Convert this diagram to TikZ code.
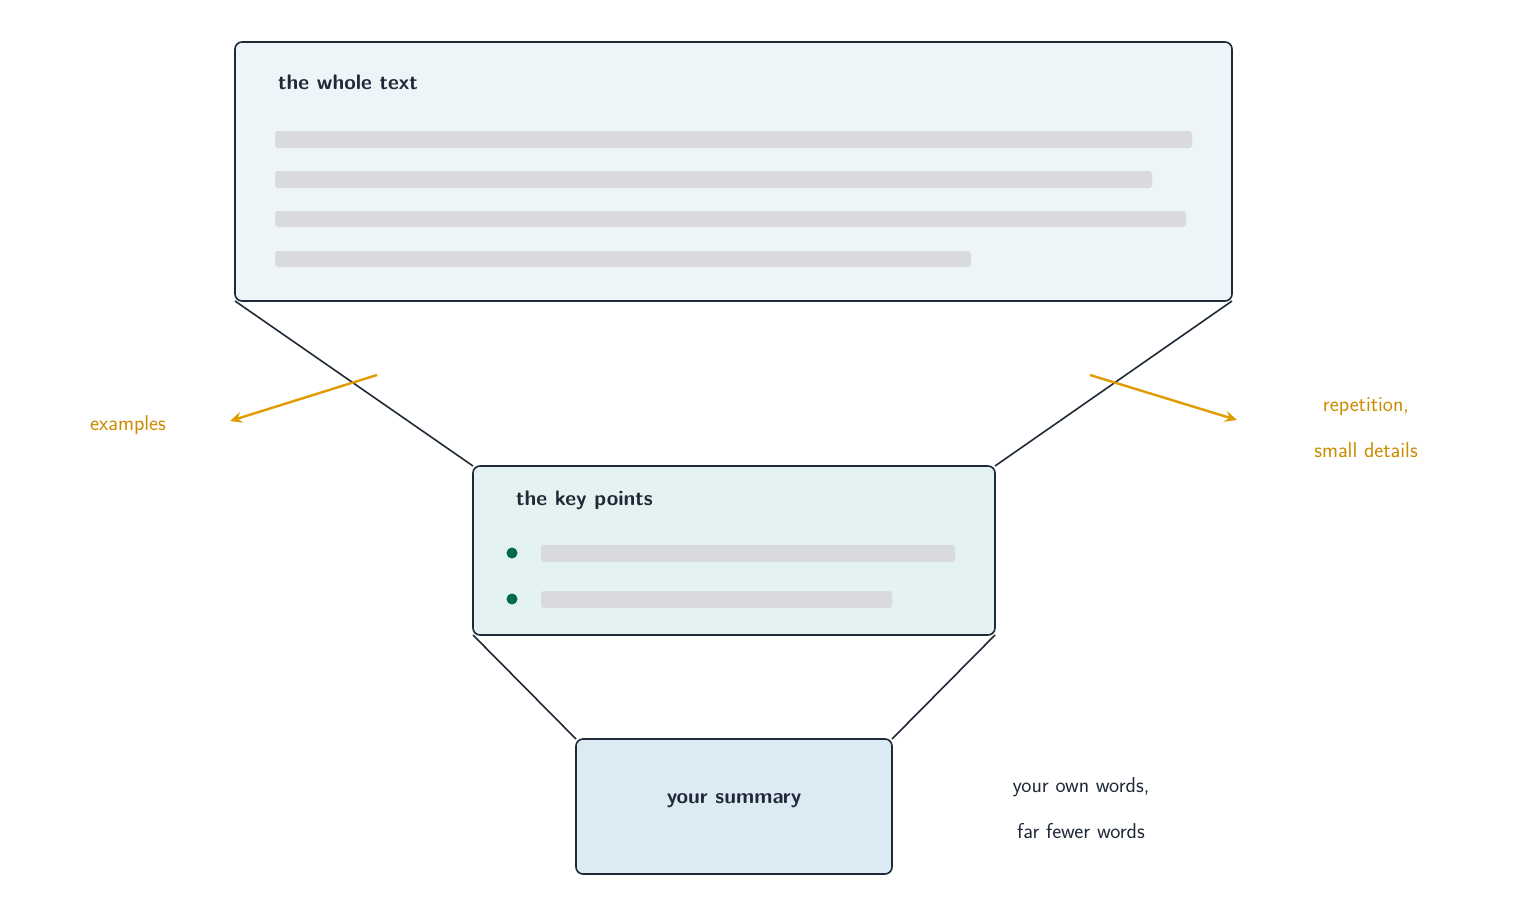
\documentclass[tikz,border=0pt]{standalone}
\usepackage{fontspec}
\usetikzlibrary{arrows.meta}
\definecolor{ink}{HTML}{1F2937}
\definecolor{barc}{HTML}{D9DADF}
\definecolor{orng}{HTML}{E09B00}
\definecolor{orngt}{HTML}{CC8A00}
\definecolor{grn}{HTML}{006A4E}
\begin{document}
\begin{tikzpicture}[x=1pt,y=-1pt,
 box/.style={draw=ink,line width=1.6pt,rounded corners=7pt},
 bar/.style={fill=barc,rounded corners=3pt},
 conn/.style={draw=ink,line width=1.6pt},
 arr/.style={draw=orng,line width=2.4pt,-{Stealth[length=12pt,width=11pt]}},
 ttl/.style={font=\sffamily\bfseries\fontsize{21}{25}\selectfont,text=ink,anchor=west,inner sep=0},
 lbl/.style={font=\sffamily\fontsize{21.5}{46}\selectfont,align=center,inner sep=0}]
\useasboundingbox (0,0) rectangle (1522,916);
\path[box,fill={rgb,255:red,237;green,245;blue,249}] (235,42) rectangle (1232,301);
\coordinate (tl) at (235,301); \coordinate (tr) at (1232,301);
\node[ttl] (t1) at (278,82) {the whole text};
\path[bar] (275,131) rectangle (1192,148);
\path[bar] (275,171) rectangle (1152,188);
\path[bar] (275,211) rectangle (1186,227);
\path[bar] (275,251) rectangle (971,267);
\path[box,fill={rgb,255:red,228;green,243;blue,241}] (473,466) rectangle (995,635);
\coordinate (ml) at (473,466); \coordinate (mr) at (995,466);
\coordinate (mbl) at (473,635); \coordinate (mbr) at (995,635);
\node[ttl] (t2) at (516,500) {the key points};
\fill[grn] (512,553) circle (5.5);
\fill[grn] (512,599) circle (5.5);
\path[bar] (541,545) rectangle (955,562);
\path[bar] (541,591) rectangle (892,608);
\path[box,fill={rgb,255:red,219;green,234;blue,243}] (576,739) rectangle (892,874);
\coordinate (bl) at (576,739); \coordinate (br) at (892,739);
\node[ttl,anchor=center] (t3) at (734,801) {your summary};
\draw[conn] (tl) -- (ml); \draw[conn] (tr) -- (mr);
\draw[conn] (mbl) -- (bl); \draw[conn] (mbr) -- (br);
\coordinate (a1) at (377,375); \coordinate (a2) at (1090,375);
\node[lbl,text=orngt] (ex) at (128,425) {examples};
\node[lbl,text=orngt] (rep) at (1366,428) {repetition,\\small details};
\draw[arr] (a1) -- (230,421);
\draw[arr] (a2) -- (1237,420);
\node[lbl,text=ink] (own) at (1081,808) {your own words,\\far fewer words};
\end{tikzpicture}
\end{document}
